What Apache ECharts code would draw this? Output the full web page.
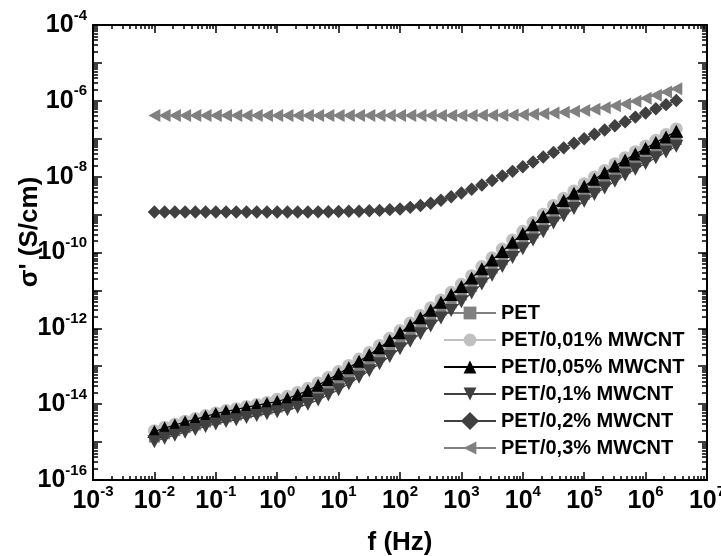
<!DOCTYPE html>
<html>
<head>
<meta charset="utf-8">
<script src="https://cdn.jsdelivr.net/npm/echarts@6/dist/echarts.min.js"></script>
<style>html,body{margin:0;padding:0;background:#fff}#c{width:721px;height:556px}</style>
</head>
<body>
<div id="c"></div>
<script>
// frequencies (Hz), 6 points per decade from 1e-2 to ~3e6
const freq = [0.01,0.01468,0.02154,0.03162,0.04642,0.06813,0.1,0.1468,0.2154,0.3162,0.4642,0.6813,
  1,1.468,2.154,3.162,4.642,6.813,10,14.68,21.54,31.62,46.42,68.13,100,146.8,215.4,316.2,464.2,681.3,
  1000,1468,2154,3162,4642,6813,1e4,14680,21540,31620,46420,68130,1e5,146800,215400,316200,464200,681300,
  1e6,1468000,2154000,3162000];

const pet = [1.35e-15,1.66e-15,2.0e-15,2.40e-15,2.82e-15,3.39e-15,3.98e-15,4.57e-15,5.13e-15,5.89e-15,6.61e-15,7.41e-15,
  8.32e-15,9.77e-15,1.20e-14,1.51e-14,2.04e-14,2.75e-14,3.80e-14,5.50e-14,8.13e-14,1.20e-13,1.86e-13,2.88e-13,
  4.57e-13,7.24e-13,1.15e-12,1.82e-12,2.95e-12,4.68e-12,7.59e-12,1.29e-11,2.24e-11,3.80e-11,6.46e-11,1.12e-10,
  1.91e-10,3.24e-10,5.37e-10,9.12e-10,1.41e-9,2.19e-9,3.39e-9,5.13e-9,7.59e-9,1.15e-8,1.66e-8,2.40e-8,
  3.39e-8,4.79e-8,6.76e-8,9.55e-8];

const cnt001 = [2.0e-15,2.45e-15,2.95e-15,3.55e-15,4.17e-15,5.01e-15,5.89e-15,6.76e-15,7.59e-15,8.71e-15,9.77e-15,1.10e-14,
  1.35e-14,1.62e-14,2.04e-14,2.63e-14,3.63e-14,5.13e-14,7.24e-14,1.05e-13,1.55e-13,2.29e-13,3.55e-13,5.50e-13,
  8.71e-13,1.38e-12,2.19e-12,3.47e-12,5.62e-12,8.91e-12,1.45e-11,2.45e-11,4.27e-11,7.24e-11,1.23e-10,2.14e-10,
  3.63e-10,6.17e-10,1.02e-9,1.74e-9,2.69e-9,4.17e-9,6.46e-9,9.77e-9,1.45e-8,2.19e-8,3.16e-8,4.57e-8,
  6.46e-8,9.12e-8,1.29e-7,1.82e-7];

const cnt005 = [1.905e-15,2.34e-15,2.82e-15,3.39e-15,3.98e-15,4.79e-15,5.62e-15,6.46e-15,7.24e-15,8.32e-15,9.33e-15,1.047e-14,
  1.175e-14,1.41e-14,1.78e-14,2.29e-14,3.16e-14,4.47e-14,6.31e-14,9.12e-14,1.35e-13,2.0e-13,3.09e-13,4.79e-13,
  7.59e-13,1.20e-12,1.91e-12,3.02e-12,4.90e-12,7.76e-12,1.26e-11,2.14e-11,3.72e-11,6.31e-11,1.07e-10,1.86e-10,
  3.16e-10,5.37e-10,8.91e-10,1.51e-9,2.34e-9,3.63e-9,5.62e-9,8.51e-9,1.26e-8,1.91e-8,2.75e-8,3.98e-8,
  5.62e-8,7.94e-8,1.12e-7,1.58e-7];

const cnt01 = [1.02e-15,1.26e-15,1.51e-15,1.82e-15,2.14e-15,2.57e-15,3.02e-15,3.47e-15,3.89e-15,4.47e-15,5.01e-15,5.62e-15,
  6.31e-15,7.08e-15,8.32e-15,1.0e-14,1.29e-14,1.74e-14,2.40e-14,3.47e-14,5.13e-14,7.59e-14,1.17e-13,1.82e-13,
  2.88e-13,4.57e-13,7.24e-13,1.15e-12,1.86e-12,2.95e-12,5.01e-12,8.51e-12,1.48e-11,2.51e-11,4.27e-11,7.41e-11,
  1.26e-10,2.14e-10,3.55e-10,6.03e-10,9.33e-10,1.45e-9,2.24e-9,3.39e-9,5.01e-9,7.59e-9,1.10e-8,1.58e-8,
  2.24e-8,3.16e-8,4.47e-8,6.31e-8];

const cnt02 = [1.175e-9,1.175e-9,1.175e-9,1.175e-9,1.175e-9,1.175e-9,1.175e-9,1.175e-9,1.175e-9,1.175e-9,1.175e-9,1.175e-9,
  1.175e-9,1.175e-9,1.175e-9,1.175e-9,1.18e-9,1.19e-9,1.20e-9,1.22e-9,1.23e-9,1.26e-9,1.29e-9,1.35e-9,
  1.41e-9,1.55e-9,1.74e-9,2.0e-9,2.4e-9,2.95e-9,3.72e-9,4.68e-9,6.03e-9,7.94e-9,1.05e-8,1.38e-8,
  1.82e-8,2.45e-8,3.31e-8,4.37e-8,5.75e-8,7.59e-8,1.0e-7,1.32e-7,1.70e-7,2.19e-7,2.82e-7,3.72e-7,
  4.79e-7,6.17e-7,7.94e-7,1.02e-6];

const cnt03 = [4.1e-7,4.1e-7,4.1e-7,4.1e-7,4.1e-7,4.1e-7,4.1e-7,4.1e-7,4.1e-7,4.1e-7,4.1e-7,4.1e-7,
  4.1e-7,4.1e-7,4.1e-7,4.1e-7,4.1e-7,4.1e-7,4.1e-7,4.1e-7,4.1e-7,4.1e-7,4.1e-7,4.1e-7,
  4.1e-7,4.1e-7,4.1e-7,4.1e-7,4.1e-7,4.1e-7,4.12e-7,4.12e-7,4.15e-7,4.15e-7,4.17e-7,4.2e-7,
  4.27e-7,4.4e-7,4.57e-7,4.79e-7,5.0e-7,5.3e-7,5.6e-7,6.0e-7,6.6e-7,7.4e-7,8.3e-7,9.8e-7,
  1.17e-6,1.41e-6,1.7e-6,2.09e-6];

const seriesNames = ['PET','PET/0,01% MWCNT','PET/0,05% MWCNT','PET/0,1% MWCNT','PET/0,2% MWCNT','PET/0,3% MWCNT'];
const xMajor = [1e-3,1e-2,1e-1,1,1e1,1e2,1e3,1e4,1e5,1e6,1e7];
const xLabels = xMajor;
const yMajor = [1e-16,1e-15,1e-14,1e-13,1e-12,1e-11,1e-10,1e-9,1e-8,1e-7,1e-6,1e-5,1e-4];
const yLabels = [1e-16,1e-14,1e-12,1e-10,1e-8,1e-6,1e-4];

function minorsOf(majors){
  const out=[];
  for(let i=0;i<majors.length-1;i++){for(let k=2;k<=9;k++){out.push(+(majors[i]*k).toPrecision(3));}}
  return out;
}
const xMinor = minorsOf(xMajor), yMinor = minorsOf(yMajor);

const FONT = '"Liberation Sans", Arial, sans-serif';
const rich = {
  b:{fontFamily:FONT,fontWeight:'bold',fontSize:25,color:'#000',lineHeight:34},
  s:{fontFamily:FONT,fontWeight:'bold',fontSize:15,color:'#000',verticalAlign:'top',lineHeight:16}
};
const fmt = v => '{b|10}{s|' + Math.round(Math.log10(v)) + '}';

function xAx(pos, ticks, len, showLine, labels){
  return {type:'log',logBase:10,min:1e-3,max:1e7,position:pos,
    axisLine:{show:showLine,onZero:false,lineStyle:{color:'#000',width:2}},
    axisTick:{show:true,inside:true,length:len,customValues:ticks,lineStyle:{color:'#000',width:1.5}},
    axisLabel:labels?{show:true,customValues:labels,formatter:fmt,rich:rich,margin:4}:{show:false},
    splitLine:{show:false},minorTick:{show:false},
    name: labels? 'f (Hz)':'', nameLocation:'middle', nameGap:50,
    nameTextStyle:{fontFamily:FONT,fontWeight:'bold',fontSize:26,color:'#000'}};
}
function yAx(pos, ticks, len, showLine, labels){
  return {type:'log',logBase:10,min:1e-16,max:1e-4,position:pos,
    axisLine:{show:showLine,onZero:false,lineStyle:{color:'#000',width:2}},
    axisTick:{show:true,inside:true,length:len,customValues:ticks,lineStyle:{color:'#000',width:1.5}},
    axisLabel:labels?{show:true,customValues:labels,formatter:fmt,rich:rich,margin:6}:{show:false},
    splitLine:{show:false},minorTick:{show:false}};
}

const mk = (arr) => freq.map((f,i)=>[f,arr[i]]);
const styles = [
  {data:pet, symbol:'rect', size:11, rot:0, color:'#808080'},
  {data:cnt001, symbol:'circle', size:13, rot:0, color:'#c0c0c0'},
  {data:cnt005, symbol:'triangle', size:[14,13], rot:0, color:'#000000'},
  {data:cnt01, symbol:'triangle', size:[14,13], rot:180, color:'#404040'},
  {data:cnt02, symbol:'rect', size:9.5, rot:45, color:'#404040'},
  {data:cnt03, symbol:'triangle', size:[13,12], rot:90, color:'#808080'}
];

const chart = echarts.init(document.getElementById('c'), null, {renderer:'canvas'});
chart.setOption({
  animation:false,
  backgroundColor:'#fff',
  grid:{left:93,top:25,right:14,bottom:76,containLabel:false,outerBoundsMode:'none'},
  xAxis:[xAx('bottom',xMajor,8,true,xLabels), xAx('bottom',xMinor,4,false,null),
         xAx('top',xMajor,8,true,null), xAx('top',xMinor,4,false,null)],
  yAxis:[yAx('left',yMajor,9,true,yLabels), yAx('left',yMinor,5,false,null),
         yAx('right',yMajor,9,true,null), yAx('right',yMinor,5,false,null)],
  legend:{orient:'vertical',left:438,top:298,itemWidth:52,itemHeight:16,itemGap:7,
    textStyle:{fontFamily:FONT,fontWeight:'bold',fontSize:20,color:'#000',lineHeight:20},
    data:seriesNames},
  graphic:[{type:'text',x:30,y:232,rotation:Math.PI/2,
    style:{text:"σ' (S/cm)",fontFamily:FONT,fontWeight:'bold',fontSize:26,fill:'#000',align:'center',verticalAlign:'middle'}}],
  series: styles.map((s,i)=>({
    name:seriesNames[i], type:'line', xAxisIndex:0, yAxisIndex:0,
    data:mk(s.data), symbol:s.symbol, symbolSize:s.size, symbolRotate:s.rot, showSymbol:true,
    lineStyle:{color:s.color,width:1.2}, itemStyle:{color:s.color,borderWidth:0},
    emphasis:{disabled:true}, z:2+i
  }))
});
</script>
</body>
</html>
